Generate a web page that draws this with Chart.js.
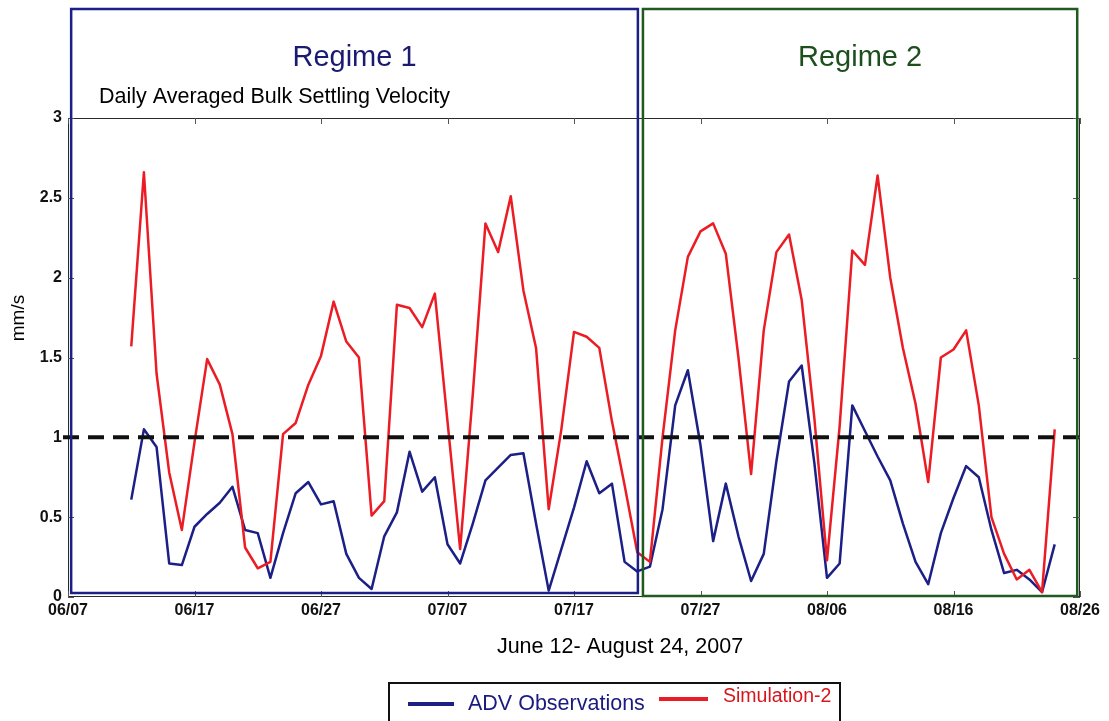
<!DOCTYPE html>
<html>
<head>
<meta charset="utf-8">
<title>Daily Averaged Bulk Settling Velocity</title>
<script src="https://cdn.jsdelivr.net/npm/chart.js@4/dist/chart.umd.min.js"></script>
<style>
  html, body { margin: 0; padding: 0; background: #fff; }
  #wrap { width: 1109px; height: 721px; }
</style>
</head>
<body>
<div id="wrap"><canvas id="chart" width="1109" height="721"></canvas></div>
<script>
// days counted from 06/07/2007; series start on 06/12 (day 5), one value per day to 08/24
const firstDay = 5;
const tickDays = [0, 10, 20, 30, 40, 50, 60, 70, 80];
const tickLabels = ['06/07', '06/17', '06/27', '07/07', '07/17', '07/27', '08/06', '08/16', '08/26'];

// ADV observations, mm/s
const advObs = [
  0.61, 1.05, 0.94, 0.21, 0.20, 0.44, 0.52, 0.59, 0.69, 0.42, 0.40, 0.12, 0.40, 0.65, 0.72, 0.58, 0.60, 0.27, 0.12,
  0.05, 0.38, 0.53, 0.91, 0.66, 0.75, 0.33, 0.21, 0.46, 0.73, 0.81, 0.89, 0.90, 0.46, 0.04, 0.30, 0.56, 0.85, 0.65,
  0.71, 0.22, 0.16, 0.19, 0.55, 1.20, 1.42, 0.95, 0.35, 0.71, 0.38, 0.10,
  0.27, 0.85, 1.35, 1.45, 0.84, 0.12, 0.21, 1.20, 1.04, 0.88, 0.73, 0.46, 0.22, 0.08, 0.40, 0.62, 0.82, 0.75,
  0.42, 0.15, 0.17, 0.11, 0.03, 0.33
];

// Simulation-2, mm/s
const simulation2 = [
  1.57, 2.66, 1.40, 0.78, 0.42, 0.97, 1.49, 1.33, 1.02, 0.31, 0.18, 0.22, 1.02, 1.09, 1.33, 1.51, 1.85, 1.60, 1.50,
  0.51, 0.60, 1.83, 1.81, 1.69, 1.90, 1.10, 0.30, 1.27, 2.34, 2.16, 2.51, 1.92, 1.56, 0.55, 1.05, 1.66, 1.63, 1.56,
  1.10, 0.70, 0.28, 0.22, 1.00, 1.67, 2.13, 2.29, 2.34, 2.15, 1.50, 0.77,
  1.67, 2.16, 2.27, 1.86, 1.12, 0.23, 1.07, 2.17, 2.08, 2.64, 2.00, 1.56, 1.21, 0.72, 1.50, 1.55, 1.67, 1.20,
  0.50, 0.27, 0.11, 0.17, 0.03, 1.05
];

const threshold = 1;
const yTicks = [0, 0.5, 1, 1.5, 2, 2.5, 3];

const NAVY = '#1b1f86';
const RED = '#ec1c24';
const GREEN = '#1f5a1f';
const FONT = '"Liberation Sans", Arial, Helvetica, sans-serif';

Chart.defaults.font.family = FONT;

const toPoints = arr => arr.map((v, i) => ({ x: firstDay + i, y: v }));

function seg(ctx, x1, y1, x2, y2) {
  ctx.beginPath();
  ctx.moveTo(x1, y1);
  ctx.lineTo(x2, y2);
  ctx.stroke();
}

// frame, inner ticks, 1 mm/s reference, regime boxes and all the captions
const decorations = {
  id: 'decorations',
  afterDraw(chart) {
    const { ctx, chartArea: a, scales: { x, y } } = chart;
    ctx.save();

    ctx.strokeStyle = '#2a2a2a';
    ctx.lineWidth = 1;
    ctx.strokeRect(Math.round(a.left) + 0.5, Math.round(a.top) + 0.5,
      Math.round(a.right - a.left) - 1, Math.round(a.bottom - a.top) - 1);

    ctx.strokeStyle = '#555';
    tickDays.forEach(d => {
      const px = Math.round(x.getPixelForValue(d)) + 0.5;
      seg(ctx, px, a.top, px, a.top + 6);
      seg(ctx, px, a.bottom, px, a.bottom - 6);
    });
    yTicks.forEach(v => {
      const py = Math.round(y.getPixelForValue(v)) + 0.5;
      seg(ctx, a.left, py, a.left + 6, py);
      seg(ctx, a.right, py, a.right - 7, py);
    });

    // reference line at 1 mm/s
    ctx.strokeStyle = '#111';
    ctx.lineWidth = 4;
    ctx.setLineDash([16, 9]);
    const yr = y.getPixelForValue(threshold);
    seg(ctx, a.left - 5, yr, a.right, yr);
    ctx.setLineDash([]);

    // regime boxes
    const y0 = y.getPixelForValue(0);
    ctx.lineWidth = 2.5;
    ctx.strokeStyle = NAVY;
    const r1l = x.getPixelForValue(0.25), r1r = x.getPixelForValue(45.05);
    ctx.strokeRect(r1l, 9, r1r - r1l, y0 - 4 - 9);
    ctx.strokeStyle = GREEN;
    const r2l = x.getPixelForValue(45.45), r2r = x.getPixelForValue(79.78);
    ctx.strokeRect(r2l, 9, r2r - r2l, y0 - 1 - 9);

    ctx.textBaseline = 'middle';
    ctx.textAlign = 'center';
    ctx.font = '29px ' + FONT;
    ctx.fillStyle = '#1a1a70';
    ctx.fillText('Regime 1', (r1l + r1r) / 2, 58);
    ctx.fillStyle = '#1d4f1d';
    ctx.fillText('Regime 2', (r2l + r2r) / 2, 58);

    ctx.textAlign = 'left';
    ctx.fillStyle = '#000';
    ctx.font = '21.5px ' + FONT;
    ctx.fillText('Daily Averaged Bulk Settling Velocity', 99, 97);

    // axis titles
    ctx.textAlign = 'center';
    ctx.fillText('June 12- August 24, 2007', 620, 647);
    ctx.save();
    ctx.translate(19, 318);
    ctx.rotate(-Math.PI / 2);
    ctx.font = '19px ' + FONT;
    ctx.fillText('mm/s', 0, 0);
    ctx.restore();

    // legend
    ctx.strokeStyle = '#111';
    ctx.lineWidth = 2;
    ctx.strokeRect(389, 683, 451, 60);
    ctx.lineWidth = 4;
    ctx.strokeStyle = NAVY;
    seg(ctx, 408, 704, 454, 704);
    ctx.strokeStyle = RED;
    seg(ctx, 659, 699, 708, 699);
    ctx.textAlign = 'left';
    ctx.fillStyle = '#1a1a80';
    ctx.font = '21.5px ' + FONT;
    ctx.fillText('ADV Observations', 468, 704);
    ctx.fillStyle = '#d8141c';
    ctx.font = '19.5px ' + FONT;
    ctx.fillText('Simulation-2', 723, 697);

    ctx.restore();
  }
};

new Chart(document.getElementById('chart'), {
  type: 'line',
  data: {
    datasets: [
      {
        label: 'Simulation-2',
        data: toPoints(simulation2),
        borderColor: RED,
        borderWidth: 2.5,
        borderJoinStyle: 'round',
        pointRadius: 0,
        tension: 0,
        order: 0
      },
      {
        label: 'ADV Observations',
        data: toPoints(advObs),
        borderColor: NAVY,
        borderWidth: 2.5,
        borderJoinStyle: 'round',
        pointRadius: 0,
        tension: 0,
        order: 1
      }
    ]
  },
  options: {
    responsive: false,
    animation: false,
    devicePixelRatio: 1,
    layout: { padding: { left: 0, right: 29, top: 118, bottom: 94 } },
    plugins: { legend: { display: false }, tooltip: { enabled: false } },
    scales: {
      x: {
        type: 'linear',
        min: 0,
        max: 80,
        afterBuildTicks: s => { s.ticks = tickDays.map(v => ({ value: v })); },
        afterFit: s => { s.height = 30; },
        grid: { display: false, drawTicks: false },
        border: { display: false },
        ticks: {
          padding: 4,
          color: '#111',
          font: { size: 16, weight: 'bold' },
          maxRotation: 0,
          callback: v => tickLabels[tickDays.indexOf(v)]
        }
      },
      y: {
        min: 0,
        max: 3,
        afterBuildTicks: s => { s.ticks = yTicks.map(v => ({ value: v })); },
        afterFit: s => { s.width = 68; },
        grid: { display: false, drawTicks: false },
        border: { display: false },
        ticks: {
          padding: 6,
          color: '#111',
          font: { size: 16, weight: 'bold' },
          callback: v => String(v)
        }
      }
    }
  },
  plugins: [decorations]
});
</script>
</body>
</html>
